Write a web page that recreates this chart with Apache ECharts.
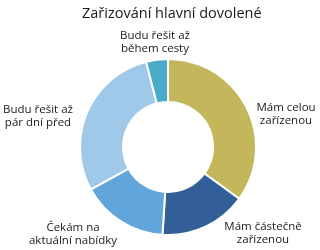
<!DOCTYPE html>
<html><head><meta charset="utf-8">
<script src="https://cdn.jsdelivr.net/npm/echarts@6/dist/echarts.min.js"></script>
<style>html,body{margin:0;padding:0;background:#fff}#c{width:320px;height:250px}</style>
</head><body><div id="c"></div>
<script>
var categories = ["Mám celou\nzařízenou", "Mám částečně\nzařízenou", "Čekám na\naktuální nabídky", "Budu řešit až\npár dní před", "Budu řešit až\nběhem cesty"];
var values = [35, 16, 16, 29, 4];
var colors = ["#c3b65b", "#335f99", "#62a5db", "#a0c8e8", "#4aabc8"];
var title = "Zařizování hlavní dovolené";

// label anchor positions (label centres, px)
var labelPos = [[286, 114], [263, 233], [73, 234], [38, 116], [155, 42]];

var chart = echarts.init(document.getElementById('c'), null, {renderer: 'canvas'});
chart.setOption({
  animation: false,
  title: {text: title, left: 77, top: 1, textStyle: {fontFamily: 'Open Sans', fontWeight: 'normal', fontSize: 14.5, color: '#1a1a1a'}},
  series: [{
    type: 'pie',
    center: [168, 147],
    radius: [45, 88],
    startAngle: 90,
    clockwise: true,
    avoidLabelOverlap: false,
    itemStyle: {borderColor: '#fff', borderWidth: 2},
    label: {show: true, position: 'outside', overflow: 'none', fontFamily: 'Open Sans', fontSize: 11.5, lineHeight: 13, color: '#1a1a1a', align: 'center'},
    labelLine: {show: false, length: 10, length2: 10},
    labelLayout: function (p) {
      var pos = labelPos[p.dataIndex];
      return {x: pos[0], y: pos[1], align: 'center', verticalAlign: 'middle'};
    },
    data: categories.map(function(c, i){ return {name: c, value: values[i], itemStyle: {color: colors[i]}}; })
  }]
});
</script></body></html>
